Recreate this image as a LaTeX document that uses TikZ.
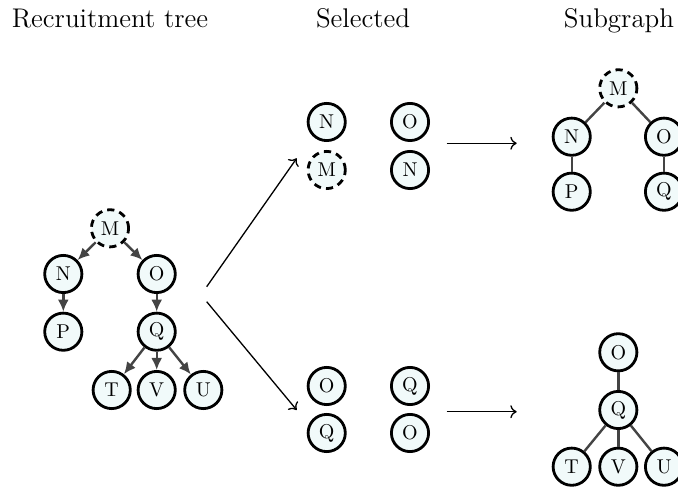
\documentclass[tikz,border=0pt]{standalone}
\usetikzlibrary{arrows.meta}
\definecolor{nodefill}{RGB}{241,250,250}
\definecolor{edgegray}{RGB}{68,68,68}
\tikzset{
  vtx/.style={circle, draw=black, line width=1.4pt, fill=nodefill, minimum size=18.6pt, inner sep=0pt, font=\fontsize{10}{12}\selectfont},
  vtxd/.style={vtx, dashed, dash pattern=on 3.6pt off 2.6pt},
  treearrow/.style={draw=edgegray, line width=1.2pt, -{Latex[length=6pt,width=5.5pt]}},
  treeedge/.style={draw=edgegray, line width=1.2pt},
  bigarrow/.style={draw=black, line width=0.65pt, -{To[length=3.2pt,width=6.5pt]}},
  title/.style={anchor=base, font=\fontsize{13.5}{16}\selectfont, inner sep=0pt}
}
\begin{document}
\begin{tikzpicture}[x=0.5pt,y=-0.5pt]
\clip (0,0) rectangle (678,490);
% titles
\node[title] (t1) at (110,28) {Recruitment tree};
\node[title] (t2) at (363,28) {Selected};
\node[title] (t3) at (619,28) {Subgraph};
% left tree
\node[vtxd] (lM) at (110,228.3) {M};
\node[vtx] (lN) at (63.3,274) {N};
\node[vtx] (lO) at (156.7,274) {O};
\node[vtx] (lP) at (63.3,331.7) {P};
\node[vtx] (lQ) at (156.7,331.7) {Q};
\node[vtx] (lT) at (111.7,390) {T};
\node[vtx] (lV) at (156.7,390) {V};
\node[vtx] (lU) at (203.3,390) {U};
\draw[treearrow] (lM) -- (lN);
\draw[treearrow] (lM) -- (lO);
\draw[treearrow] (lN) -- (lP);
\draw[treearrow] (lO) -- (lQ);
\draw[treearrow] (lQ) -- (lT);
\draw[treearrow] (lQ) -- (lV);
\draw[treearrow] (lQ) -- (lU);
% selected
\node[vtx] (s1a) at (326.7,122) {N};
\node[vtxd] (s1b) at (326.7,170) {M};
\node[vtx] (s2a) at (410,122) {O};
\node[vtx] (s2b) at (410,170) {N};
\node[vtx] (s3a) at (326.7,386) {O};
\node[vtx] (s3b) at (326.7,433) {Q};
\node[vtx] (s4a) at (410,386) {Q};
\node[vtx] (s4b) at (410,433) {O};
\coordinate (a1s) at (206.7,286.7);
\coordinate (a1e) at (296.7,158.3);
\coordinate (a2s) at (206.7,301.7);
\coordinate (a2e) at (296.7,410);
\coordinate (h1s) at (446.7,143.3);
\coordinate (h1e) at (516.7,143.3);
\coordinate (h2s) at (446.7,411.7);
\coordinate (h2e) at (516.7,411.7);
\draw[bigarrow] (a1s) -- (a1e);
\draw[bigarrow] (a2s) -- (a2e);
\draw[bigarrow] (h1s) -- (h1e);
\draw[bigarrow] (h2s) -- (h2e);
% subgraph top
\node[vtxd] (rM) at (618.3,88.3) {M};
\node[vtx] (rN) at (571.7,136.7) {N};
\node[vtx] (rO) at (664,136.7) {O};
\node[vtx] (rP) at (571.7,191.7) {P};
\node[vtx] (rQ) at (664,191.7) {Q};
\draw[treeedge] (rM) -- (rN);
\draw[treeedge] (rM) -- (rO);
\draw[treeedge] (rN) -- (rP);
\draw[treeedge] (rO) -- (rQ);
% subgraph bottom
\node[vtx] (bO) at (618.3,352.3) {O};
\node[vtx] (bQ) at (618.3,410) {Q};
\node[vtx] (bT) at (571.7,466.7) {T};
\node[vtx] (bV) at (618.3,466.7) {V};
\node[vtx] (bU) at (664,466.7) {U};
\draw[treeedge] (bO) -- (bQ);
\draw[treeedge] (bQ) -- (bT);
\draw[treeedge] (bQ) -- (bV);
\draw[treeedge] (bQ) -- (bU);
\end{tikzpicture}
\end{document}
